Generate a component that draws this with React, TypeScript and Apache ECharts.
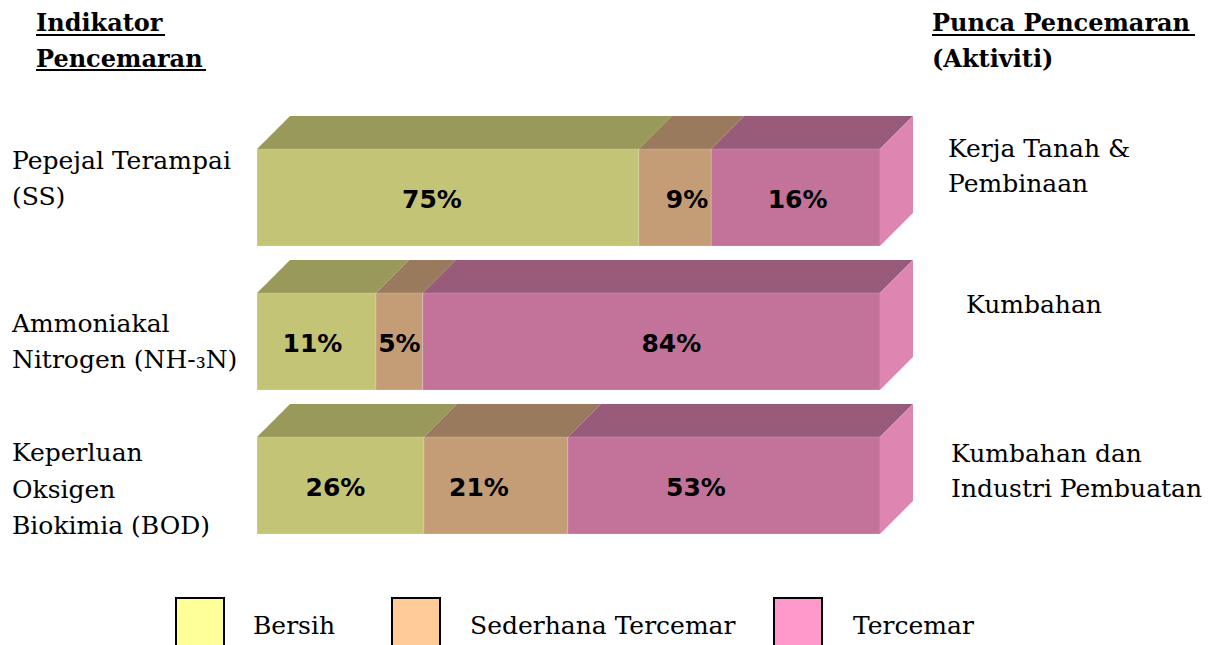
import React, { useEffect, useRef } from "react";
import * as echarts from "echarts";

// Rows (indicators), top to bottom
const indicators = ["Pepejal Terampai (SS)", "Ammoniakal Nitrogen (NH-₃N)", "Keperluan Oksigen Biokimia (BOD)"];
const leftLines = [["Pepejal Terampai", "(SS)"], ["Ammoniakal", "Nitrogen (NH-₃N)"], ["Keperluan", "Oksigen", "Biokimia (BOD)"]];
const rightLines = [["Kerja Tanah &", "Pembinaan"], ["Kumbahan"], ["Kumbahan dan", "Industri Pembuatan"]];

// Segment lengths as drawn in the picture (share of bar, %)
const bersih = [61.3, 19.1, 26.8];
const sederhana = [11.6, 7.5, 23.1];
const tercemar = [27.1, 73.4, 50.1];

// Printed labels
const bersihLabels = ["75%", "11%", "26%"];
const sederhanaLabels = ["9%", "5%", "21%"];
const tercemarLabels = ["16%", "84%", "53%"];

const seriesNames = ["Bersih", "Sederhana Tercemar", "Tercemar"];

const SERIF = '"DejaVu Serif", serif';
const SANS = '"DejaVu Sans", sans-serif';

const faceColors = [
  { front: "#C4C477", top: "#999959", side: "#D8D890" },
  { front: "#C49C76", top: "#997A5C", side: "#DDB28C" },
  { front: "#C37399", top: "#995B7A", side: "#DF85B2" },
];
const legendColors = ["#FFFF99", "#FFCC99", "#FF99CC"];
// horizontal nudge of each printed label from its segment centre (px), per series then row
const labelNudge = [[-16, -4, -5], [12, 0, -17], [2, 20, -28]];

function buildOption() {
  const all = [bersih, sederhana, tercemar];
  const labels = [bersihLabels, sederhanaLabels, tercemarLabels];
  const DEPTH = 33;

  const series = all.map((vals, si) => {
    const data = vals.map((v, i) => {
      let start = 0;
      for (let k = 0; k < si; k++) start += all[k][i];
      return [i, start, start + v];
    });
    return {
      type: "custom",
      name: seriesNames[si],
      data,
      encode: { x: [1, 2], y: 0 },
      renderItem: (params: any, api: any) => {
        const cat = api.value(0);
        const s = api.value(1);
        const e = api.value(2);
        const p0 = api.coord([s, cat]);
        const p1 = api.coord([e, cat]);
        const band = api.size([0, 1])[1];
        const h = band * 0.674;
        const yTop = p0[1] - h / 2;
        const yBot = p0[1] + h / 2;
        const x0 = p0[0];
        const x1 = p1[0];
        const c = faceColors[si];
        const children: any[] = [
          {
            type: "polygon",
            shape: { points: [[x0, yTop], [x1, yTop], [x1 + DEPTH, yTop - DEPTH], [x0 + DEPTH, yTop - DEPTH]] },
            style: { fill: c.top },
          },
          {
            type: "rect",
            shape: { x: x0, y: yTop, width: x1 - x0, height: h },
            style: { fill: c.front, stroke: "rgba(255,255,255,0.18)", lineWidth: 1 },
          },
        ];
        if (si === all.length - 1) {
          children.push({
            type: "polygon",
            shape: { points: [[x1, yTop], [x1 + DEPTH, yTop - DEPTH], [x1 + DEPTH, yBot - DEPTH], [x1, yBot]] },
            style: { fill: c.side },
          });
        }
        children.push({
          type: "text",
          x: (x0 + x1) / 2 + labelNudge[si][params.dataIndex],
          y: (yTop + yBot) / 2 + 2,
          style: {
            text: labels[si][params.dataIndex],
            font: `bold 25px ${SANS}`,
            fill: "#000",
            align: "center",
            verticalAlign: "middle",
          },
        });
        return { type: "group", children };
      },
    };
  });

  const graphic: any[] = [];
  const txt = (x: number, y: number, text: string, font: string) => ({
    type: "text",
    x,
    y,
    style: { text, font, fill: "#000", align: "left", verticalAlign: "middle" },
  });
  const line = (x1: number, x2: number, y: number) => ({
    type: "line",
    shape: { x1, y1: y, x2, y2: y },
    style: { stroke: "#000", lineWidth: 2 },
  });

  // headers
  graphic.push(txt(36, 22, "Indikator", `bold 24px ${SERIF}`));
  graphic.push(line(36, 165, 35));
  graphic.push(txt(36, 58, "Pencemaran", `bold 24px ${SERIF}`));
  graphic.push(line(36, 206, 70));
  graphic.push(txt(932, 22, "Punca Pencemaran", `bold 24px ${SERIF}`));
  graphic.push(line(932, 1195, 35));
  graphic.push(txt(932, 58, "(Aktiviti)", `bold 24px ${SERIF}`));

  // left labels
  const leftY = [[160, 196], [323, 359], [452, 489, 525]];
  leftLines.forEach((lines, i) => lines.forEach((l, j) => graphic.push(txt(12, leftY[i][j], l, `25px ${SERIF}`))));
  // right labels
  const rightY = [[148, 183], [304], [453, 488]];
  const rightX = [948, 966, 951];
  rightLines.forEach((lines, i) => lines.forEach((l, j) => graphic.push(txt(rightX[i], rightY[i][j], l, `25px ${SERIF}`))));

  // legend
  const boxX = [176, 392, 774];
  const textX = [253, 470, 853];
  seriesNames.forEach((n, i) => {
    graphic.push({
      type: "rect",
      shape: { x: boxX[i], y: 598, width: 48, height: 60 },
      style: { fill: legendColors[i], stroke: "#000", lineWidth: 2 },
    });
    graphic.push(txt(textX[i], 625, n, `25px ${SERIF}`));
  });

  return {
    animation: false,
    backgroundColor: "#fff",
    grid: { left: 257, right: 341, top: 125.5, bottom: 87.5, containLabel: false },
    xAxis: { type: "value", min: 0, max: 100, show: false },
    yAxis: { type: "category", data: indicators, inverse: true, show: false },
    series,
    graphic,
  };
}

export default function App() {
  const ref = useRef<HTMLDivElement>(null);
  useEffect(() => {
    if (!ref.current) return;
    const chart = echarts.init(ref.current, null, { renderer: "svg" });
    chart.setOption(buildOption() as any);
    return () => chart.dispose();
  }, []);
  return (
    <div
      ref={ref}
      style={{ position: "fixed", left: 0, top: 0, width: 1221, height: 645, background: "#fff" }}
    />
  );
}
